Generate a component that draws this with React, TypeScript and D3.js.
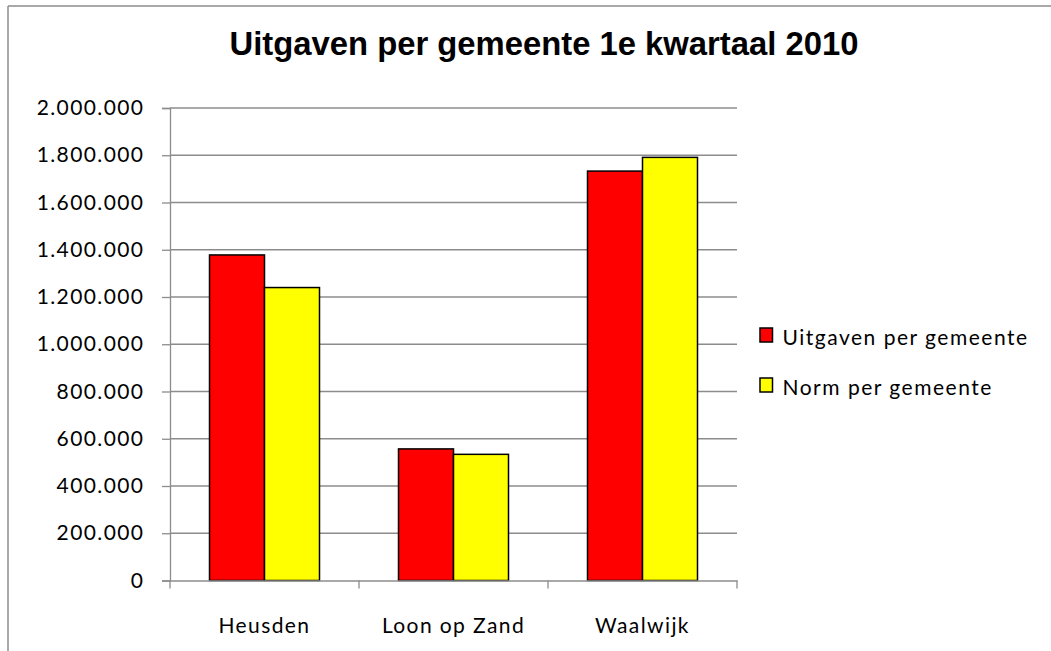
import React, { useEffect, useRef } from 'react'
import * as d3 from 'd3'

// data
const gemeenten = ['Heusden', 'Loon op Zand', 'Waalwijk']
const seriesNames = ['Uitgaven per gemeente', 'Norm per gemeente']
const uitgaven = [1378000, 557000, 1733000]
const norm = [1240000, 534000, 1791000]
const seriesColors = ['#ff0000', '#ffff00']
const yTicks = [0, 200000, 400000, 600000, 800000, 1000000, 1200000, 1400000, 1600000, 1800000, 2000000]

const W = 1051
const H = 651

export default function App() {
  const svgRef = useRef<SVGSVGElement>(null)

  useEffect(() => {
    const svg = d3.select(svgRef.current)
    svg.selectAll('*').remove()

    const left = 170, right = 737, top = 108, bottom = 580.5
    const labelFont = 'Lato, "Open Sans", sans-serif'
    const labelSize = '21px'
    const spacing = '1.4px'
    const grid = '#8c8c8c'

    // frame (cropped on right/bottom in the reference)
    svg.append('line').attr('x1', 8).attr('x2', W).attr('y1', 6).attr('y2', 6)
      .attr('stroke', grid).attr('stroke-width', 1.5)
    svg.append('line').attr('x1', 8).attr('x2', 8).attr('y1', 6).attr('y2', H)
      .attr('stroke', grid).attr('stroke-width', 1.5)

    svg.append('text')
      .attr('x', 544).attr('y', 55)
      .attr('text-anchor', 'middle')
      .style('font-family', '"Liberation Sans", Arial, sans-serif')
      .style('font-weight', 'bold')
      .style('font-size', '32.8px')
      .text('Uitgaven per gemeente 1e kwartaal 2010')

    const y = d3.scaleLinear().domain([0, 2000000]).range([bottom, top])
    const x0 = d3.scaleBand().domain(gemeenten).range([left, right]).paddingInner(0).paddingOuter(0)
    const x1 = d3.scaleBand().domain(seriesNames).range([0, 110])
    const groupOffset = (x0.bandwidth() - 110) / 2

    const fmt = (v: number) => d3.format(',')(v).replace(/,/g, '.')

    // gridlines
    svg.append('g').selectAll('line').data(yTicks.filter(d => d > 0)).join('line')
      .attr('x1', left).attr('x2', right)
      .attr('y1', d => y(d)).attr('y2', d => y(d))
      .attr('stroke', grid).attr('stroke-width', 1.3)

    // bars
    const rows = gemeenten.map((g, i) => ({ g, vals: [uitgaven[i], norm[i]] }))
    const groups = svg.append('g').selectAll('g').data(rows).join('g')
      .attr('transform', d => `translate(${(x0(d.g) as number) + groupOffset},0)`)
    groups.selectAll('rect')
      .data(d => d.vals.map((v, j) => ({ v, s: seriesNames[j], c: seriesColors[j] })))
      .join('rect')
      .attr('x', d => x1(d.s) as number)
      .attr('width', x1.bandwidth())
      .attr('y', d => y(d.v))
      .attr('height', d => bottom - y(d.v))
      .attr('fill', d => d.c)
      .attr('stroke', '#000')
      .attr('stroke-width', 1.5)

    // y axis
    const yAxis = svg.append('g').attr('transform', `translate(${left},0)`)
      .call(d3.axisLeft(y).tickValues(yTicks).tickFormat(d => fmt(d as number)).tickSize(8).tickPadding(17.6))
    yAxis.select('.domain').attr('stroke', grid).attr('stroke-width', 1.3)
    yAxis.selectAll('.tick line').attr('stroke', grid).attr('stroke-width', 1.3)
    yAxis.selectAll('text').attr('fill', '#000')
      .style('font-family', labelFont).style('font-size', labelSize).style('letter-spacing', spacing)

    // x axis
    const xAxis = svg.append('g').attr('transform', `translate(0,${bottom})`)
      .call(d3.axisBottom(x0).tickSize(0).tickPadding(38))
    xAxis.select('.domain').attr('stroke', grid).attr('stroke-width', 1.3)
    xAxis.selectAll('text').attr('fill', '#000')
      .style('font-family', labelFont).style('font-size', labelSize).style('letter-spacing', spacing)
    svg.append('g').selectAll('line')
      .data([...gemeenten.map(g => x0(g) as number), right])
      .join('line')
      .attr('x1', d => d).attr('x2', d => d)
      .attr('y1', bottom).attr('y2', bottom + 8)
      .attr('stroke', grid).attr('stroke-width', 1.3)

    // legend
    const legend = svg.append('g').selectAll('g').data(seriesNames).join('g')
      .attr('transform', (_d, i) => `translate(760,${328 + i * 50})`)
    legend.append('rect')
      .attr('width', 12.5).attr('height', 14)
      .attr('fill', (_d, i) => seriesColors[i])
      .attr('stroke', '#000').attr('stroke-width', 1.5)
    legend.append('text')
      .attr('x', 22.5).attr('y', 17)
      .style('font-family', labelFont).style('font-size', labelSize).style('letter-spacing', '1.5px')
      .text(d => d)
  }, [])

  return (
    <svg ref={svgRef} width={W} height={H}
      style={{ position: 'absolute', left: 0, top: 0, background: '#fff' }} />
  )
}
